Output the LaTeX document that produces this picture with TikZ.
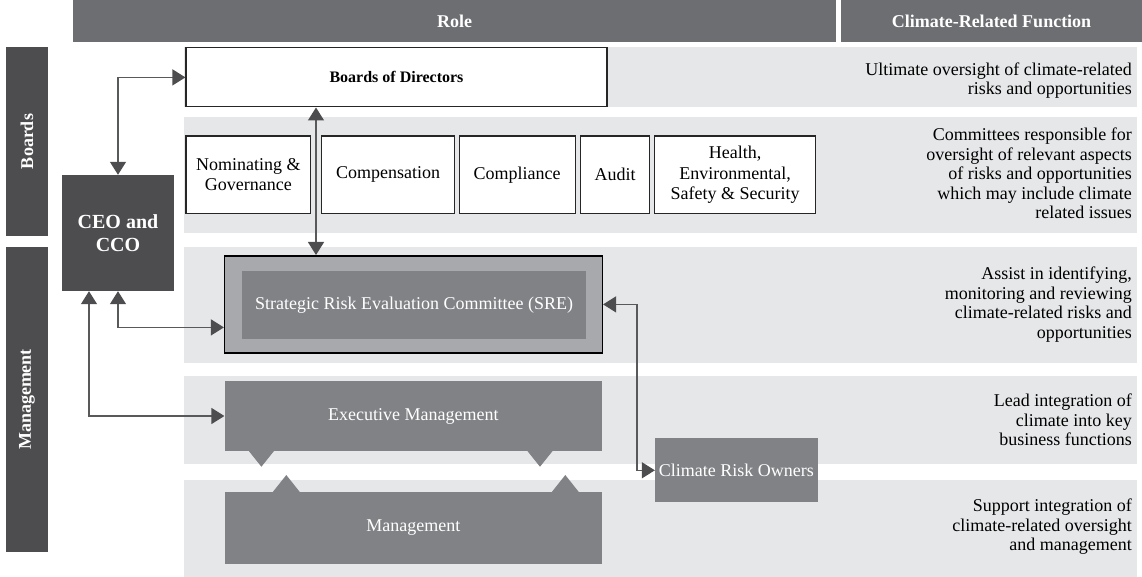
\documentclass[tikz,border=0pt]{standalone}
\usepackage{fontspec}
\setmainfont{Liberation Serif}
\usepackage{tikz}
\usetikzlibrary{positioning,arrows.meta}

\definecolor{hdrcol}{HTML}{6D6E71}
\definecolor{barcol}{HTML}{4D4D4F}
\definecolor{bandcol}{HTML}{E6E7E8}
\definecolor{boxcol}{HTML}{808285}
\definecolor{srecol}{HTML}{A7A9AC}
\definecolor{linecol}{HTML}{58595B}

\begin{document}
\begin{tikzpicture}[x=1pt,y=-1pt,
  hdr/.style={fill=hdrcol,text=white,inner sep=0pt,font=\fontsize{18}{20}\selectfont\bfseries},
  sidebar/.style={fill=barcol,text=white,inner sep=0pt,rotate=90,minimum height=42,font=\fontsize{18}{20}\selectfont\bfseries},
  wbox/.style={draw=black!85,line width=1.2pt,fill=white,align=center,inner sep=0pt,font=\fontsize{18}{20.5}\selectfont},
  gbox/.style={fill=boxcol,text=white,align=center,inner sep=0pt,font=\fontsize{18}{20.5}\selectfont},
  functext/.style={anchor=east,align=right,inner sep=0pt,font=\fontsize{18}{19.5}\selectfont},
  link/.style={draw=linecol,line width=1.3pt,
    {Triangle[length=13pt,width=16pt,color=barcol]}-{Triangle[length=13pt,width=16pt,color=barcol]}}]
  \useasboundingbox (0,0) rectangle (1142,577);

  % column headers
  \node[hdr,minimum width=763,minimum height=42] (role) at (454.5,21) {Role};
  \node[hdr,minimum width=301,minimum height=42] (func) at (991.5,21) {Climate-Related Function};

  % side labels
  \node[sidebar,minimum width=189] (boards) at (27,141.5) {Boards};
  \node[sidebar,minimum width=305] (mgmt) at (27,399.5) {Management};

  % row bands
  \foreach \top/\bot in {47/107.5,116.7/232.7,246.7/362.7,376/464,480/576.7}
    \fill[bandcol] (184,\top) rectangle (1137,\bot);

  % boards
  \node[wbox,minimum width=421,minimum height=59,font=\fontsize{16}{18}\selectfont\bfseries] (bod) at (396.5,77.4) {Boards of Directors};
  \node[wbox,minimum width=124.8,minimum height=77.3] (nom) at (248.4,174.7) {Nominating \&\\Governance};
  \node[wbox,minimum width=133.1,minimum height=77.3] (comp) at (388.1,174.7) {Compensation};
  \node[wbox,minimum width=116,minimum height=77.3] (compl) at (517.2,174.7) {Compliance};
  \node[wbox,minimum width=69.4,minimum height=77.3] (audit) at (615,174.7) {Audit};
  \node[wbox,minimum width=160.8,minimum height=77.3] (health) at (735,174.7) {Health,\\Environmental,\\Safety \& Security};

  % CEO box
  \node[fill=barcol,text=white,align=center,inner sep=0pt,minimum width=112,minimum height=116,
    font=\fontsize{20}{23}\selectfont\bfseries] (ceo) at (118,233) {CEO and\\CCO};

  % management
  \node[draw=black,line width=1.5pt,fill=srecol,minimum width=377.7,minimum height=97.3] (sre) at (413.5,304.4) {};
  \node[gbox,minimum width=344,minimum height=68] (srein) at (414,305) {Strategic Risk Evaluation Committee (SRE)};
  \node[gbox,minimum width=377.4,minimum height=70] (exec) at (413.3,416) {Executive Management};
  \node[gbox,minimum width=377.4,minimum height=72.6] (man) at (413.3,528) {Management};
  \node[gbox,minimum width=162.7,minimum height=64] (cro) at (736.4,470.3) {Climate Risk Owners};

  % tabs between executive and management
  \foreach \x in {261.4,540}
    \fill[boxcol] (\x-13,450.5) -- (\x,466.7) -- (\x+13,450.5) -- cycle;
  \foreach \x in {286.3,565.3}
    \fill[boxcol] (\x-13.5,492) -- (\x,475) -- (\x+13.5,492) -- cycle;

  % connectors
  \draw[link] (ceo.north) |- (bod.west);
  \draw[link] ([xshift=-80.5pt]bod.south) -- ([xshift=-80.5pt]bod.south |- sre.north);
  \draw[link] (ceo.south) |- ([yshift=-23pt]sre.west);
  \draw[link] ([xshift=-29pt]ceo.south) |- (exec.west);
  \draw[link] (sre.east) -- ++(34,0) |- (cro.west);

  % climate-related functions
  \node[functext] (f1) at (1132,80.5) {Ultimate oversight of climate-related\\risks and opportunities};
  \node[functext] (f2) at (1132,173.5) {Committees responsible for\\oversight of relevant aspects\\of risks and opportunities\\which may include climate\\related issues};
  \node[functext] (f3) at (1132,304.5) {Assist in identifying,\\monitoring and reviewing\\climate-related risks and\\opportunities};
  \node[functext] (f4) at (1132,420) {Lead integration of\\climate into key\\business functions};
  \node[functext] (f5) at (1132,527) {Support integration of\\climate-related oversight\\and management};
\end{tikzpicture}
\end{document}
